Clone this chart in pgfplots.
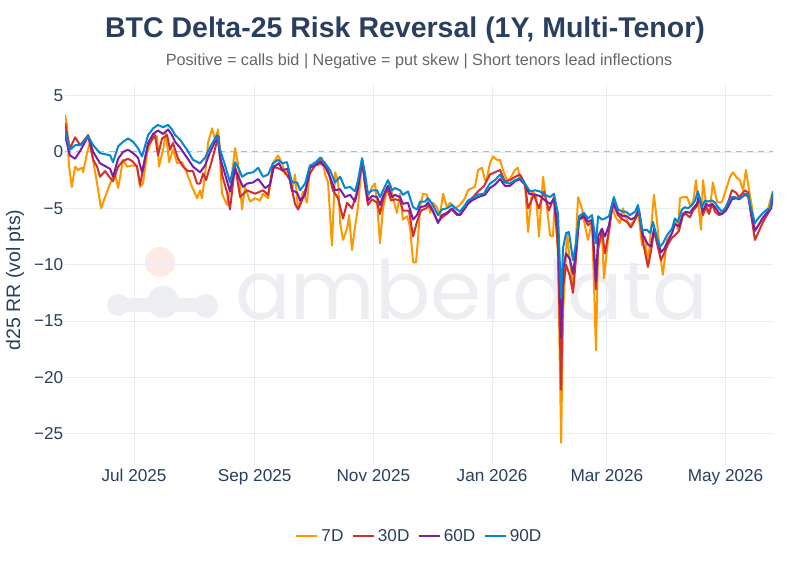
\documentclass[border=0pt]{standalone}
\usepackage{pgfplots}
\pgfplotsset{compat=1.18}
\usepackage{fontspec}
\setmainfont{Liberation Sans}
\newfontfamily\wmfont{Poppins}
\definecolor{c7}{HTML}{FF9800}
\definecolor{c30}{HTML}{D32F2F}
\definecolor{c60}{HTML}{7B1FA2}
\definecolor{c90}{HTML}{0288D1}
\definecolor{txt}{HTML}{2A3F5F}
\definecolor{subc}{HTML}{666666}
\definecolor{grd}{HTML}{E9EDF3}
\definecolor{wm}{HTML}{EDEEF2}
\definecolor{wmp}{HTML}{FCEAE5}
\begin{document}
\begin{tikzpicture}
\useasboundingbox (0pt,0pt) rectangle (810pt,567pt);
% watermark
\fill[wmp] (160pt,305pt) circle (15pt);
\fill[wm] (118pt,262pt) circle (11pt);
\fill[wm] (163pt,265pt) circle (16pt);
\fill[wm] (206pt,261pt) circle (12pt);
\fill[wm] (118pt,255pt) rectangle (206pt,269pt);
\node[anchor=base west, text=wm, inner sep=0pt] at (235pt,247pt) {\resizebox{473pt}{!}{\wmfont amberdata}};
% titles
\node[text=txt, font=\bfseries\fontsize{28.5}{34}\selectfont] at (405pt,537pt) {BTC Delta-25 Risk Reversal (1Y, Multi-Tenor)};
\node[text=subc, font=\fontsize{16.2}{19}\selectfont] at (419pt,506pt) {Positive = calls bid | Negative = put skew | Short tenors lead inflections};
\begin{axis}[
  at={(65pt,101.7pt)}, anchor=south west,
  width=708pt, height=379.8pt, scale only axis,
  xmin=-35.5, xmax=328.4, ymin=-27.8, ymax=5.9,
  axis line style={draw=none},
  major tick length=0pt,
  xtick={0,62,123,184,243,304},
  xticklabels={Jul 2025,Sep 2025,Nov 2025,Jan 2026,Mar 2026,May 2026},
  ytick={-25,-20,-15,-10,-5,0,5},
  yticklabels={−25,−20,−15,−10,−5,0,5},
  grid=major,
  major grid style={color=grd, line width=0.8pt},
  tick label style={text=txt, font=\fontsize{17.2}{20}\selectfont},
  yticklabel style={inner xsep=1.5pt},
  xticklabel style={inner ysep=4pt},
  ylabel={d25 RR (vol pts)},
  ylabel style={at={(axis description cs:-0.0706,0.488)}, anchor=center, text=txt, font=\fontsize{19.5}{22}\selectfont},
  legend style={at={(0.501,-0.186)}, anchor=center, draw=none, fill=none, legend columns=4,
    font=\fontsize{17.2}{20}\selectfont, text=txt,
    /tikz/every even column/.append style={column sep=5pt},
    nodes={inner xsep=3pt}},
  legend image code/.code={\draw[#1, line width=2.4pt] (0pt,0pt) -- (21pt,0pt);},
  every axis plot/.append style={line width=2pt, line join=round},
]
\addplot[dashed, color=black!28, line width=1pt, dash pattern=on 6pt off 5pt, forget plot] coordinates {(-35.5,0) (328.4,0)};
% 7D
\addplot[c7] coordinates {
(-35.5,3.3) (-34.5,2.4) (-33.5,-1.15) (-32,-3.1) (-30.3,-1.3) (-28.8,-1.6) (-26.7,-1.4) (-26.2,-1.8) (-24.2,-0.1) (-22.6,0.9) (-21.1,-0.7) (-19,-2.8) (-17,-5.0) (-14.9,-4.0) (-12.3,-2.8) (-9.8,-1.9) (-8.2,-3.2) (-5.7,-0.7) (-3.6,-1.3) (-1,-1.2) (1.5,-1.2) (3.1,-3.1) (4.6,-2.8) (6.7,-0.1) (9.2,1.1) (11.8,1.4) (12.8,-1.3) (14.9,0.2) (16.4,1.7) (18,-0.9) (20,0.2) (22.1,-1.0) (24.7,-0.9) (27.2,-1.9) (29.8,-3.1) (32.4,-4.1) (33.9,-3.4) (34.9,-4.1) (36.5,-2.0) (38,0.8) (40.1,2.1) (41.6,1.1) (43.2,2.0) (45.2,-3.7) (47.8,-4.7) (49.3,-3.4) (51.9,0.35) (53.4,-1.0) (55.5,-5.1) (57,-3.1) (59.6,-4.4) (62.2,-4.1) (64.7,-4.3) (66.3,-3.7) (68.9,-4.1) (71.4,-1.0) (74,-0.3) (76.1,-1.0) (77.6,-2.0) (79.1,-1.6) (81.2,-3.5) (82.7,-2.0) (84.3,-5.1) (86.8,-3.5) (88.9,-4.5) (90.4,-1.3) (93,-0.9) (94.6,-1.2) (96.6,-0.5) (98.2,-2.0) (99.7,-2.7) (101.7,-8.3) (103.3,-1.8) (104.8,-2.5) (105.9,-6.3) (107.4,-7.8) (109.5,-6.8) (110.5,-5.6) (112,-8.7) (113.6,-6.6) (115.1,-4.9) (117.2,-0.7) (118.7,-2.8) (120.2,-4.0) (122.3,-3.1) (123.8,-2.8) (124.9,-4.5) (126.4,-8.1) (128,-4.9) (130,-3.4) (131.6,-2.8) (133.1,-4.1) (135.1,-5.4) (136.7,-3.7) (138.2,-6.0) (140.3,-5.7) (141.8,-6.6) (143.4,-9.8) (144.9,-9.8) (145.9,-7.8) (147,-4.9) (148.5,-3.7) (150.6,-3.8) (152.1,-5.4) (153.6,-4.5) (155.7,-4.9) (157.2,-5.7) (158.8,-3.7) (160.8,-4.9) (162.4,-4.5) (165,-5.0) (167.5,-4.7) (170.1,-4.1) (171.6,-3.4) (173.7,-3.2) (175.2,-3.1) (176.8,-1.6) (178.8,-1.4) (180.4,-2.5) (181.4,-2.3) (182.9,-1.0) (184.5,-0.4) (186.5,-0.7) (188.1,-0.7) (189.6,-1.6) (191.7,-2.5) (193.2,-2.4) (195.8,-1.6) (197.3,-1.4) (198.4,-2.5) (200.9,-2.9) (202.5,-7.1) (204.5,-3.5) (206.6,-3.8) (208.1,-7.5) (210.2,-2.2) (212.2,-4.9) (213.8,-7.4) (215.3,-7.5) (216.3,-4.3) (217.9,-9.3) (219.5,-25.8) (220.5,-14.3) (222.5,-7.2) (224,-9.6) (225.6,-12.0) (226.6,-9.6) (228.2,-4.0) (230.2,-5.0) (231.8,-6.6) (233.3,-7.8) (235.4,-6.2) (237.4,-17.6) (238.5,-8.7) (240.5,-7.2) (241.5,-11.2) (243.6,-7.8) (245.6,-4.7) (247.2,-5.7) (249.7,-6.3) (251.3,-5.0) (252.3,-5.7) (254.9,-6.5) (257.5,-6.0) (259,-5.1) (261.1,-8.3) (262.6,-7.5) (264.1,-10.0) (265.7,-6.9) (267.2,-3.8) (268.8,-6.2) (270.3,-9.0) (271.8,-10.9) (273.9,-7.8) (276.5,-7.2) (278,-5.9) (279.5,-6.9) (280.6,-4.1) (282.1,-4.0) (284.2,-4.0) (285.7,-4.7) (287.3,-4.5) (288.8,-2.5) (289.8,-4.3) (291.4,-6.9) (292.4,-2.5) (294.5,-5.3) (296,-5.0) (297.5,-2.7) (299.6,-4.4) (301.1,-4.5) (302.2,-4.4) (304.7,-3.1) (306.3,-2.2) (307.8,-1.8) (309.9,-2.3) (311.4,-2.5) (313,-3.4) (314.5,-1.6) (316.1,-3.4) (317.6,-4.9) (319.1,-6.9) (320.7,-6.6) (322.8,-6.0) (324.3,-5.7) (325.9,-5.0) (327.9,-3.7)
};
\addlegendentry{7D}
% 30D
\addplot[c30] coordinates {
(-35.5,2.6) (-33,0.3) (-30.3,1.3) (-27.7,0.6) (-23.6,1.5) (-21,-0.7) (-19,-1.3) (-17.5,-2.2) (-14.9,-1.7) (-12.3,-2.3) (-10.8,-2.6) (-8.2,-1.3) (-5.7,-0.8) (-3.1,-0.6) (-1,-0.8) (1.5,-1.3) (3.1,-2.9) (5.7,-0.6) (7.2,0.6) (10.8,1.5) (12.3,-0.3) (14.4,1.2) (17,1.5) (18.5,0.2) (20,0.8) (22.6,-0.6) (25.2,-1.3) (27.7,-1.7) (30.3,-1.7) (32.4,-2.8) (33.9,-2.8) (35.5,-1.9) (37,-2.5) (39.6,-1.0) (42.1,0.6) (43.5,1.4) (45.2,-2.0) (47.8,-3.6) (49.3,-5.1) (51.9,-1.2) (54.5,-4.0) (58,-3.4) (62.2,-3.7) (66.3,-3.4) (68.9,-3.8) (71.4,-1.3) (75,-1.5) (77.6,-1.8) (80.2,-2.5) (82.7,-4.6) (84.3,-5.1) (86.8,-4.1) (90.4,-1.9) (93,-1.2) (95.6,-1.0) (98.2,-1.3) (99.7,-1.6) (102.2,-3.4) (104.8,-4.1) (107.4,-5.9) (109.5,-4.5) (112,-5.0) (114.5,-3.6) (117.2,-0.8) (118.7,-3.0) (120.2,-4.7) (122.3,-4.2) (124.9,-4.5) (126.4,-5.5) (128,-4.2) (130,-3.2) (132.1,-4.3) (134.1,-4.2) (136.7,-4.3) (138.2,-5.2) (141.3,-5.2) (143.4,-7.5) (145.4,-6.2) (147.5,-5.2) (150.1,-5.0) (151.6,-4.7) (154.2,-5.5) (156.2,-6.2) (158.3,-5.8) (160.8,-5.5) (163.4,-5.1) (166,-5.6) (168,-5.5) (170.1,-4.8) (172.2,-4.4) (174.2,-4.0) (176.8,-3.5) (179.9,-3.0) (182.9,-2.0) (185.5,-1.8) (188.1,-1.6) (190.6,-2.6) (193.2,-2.5) (195.8,-2.2) (198.4,-2.0) (200.9,-2.8) (202.5,-5.0) (205.5,-3.8) (208.1,-5.0) (210.7,-3.5) (213.2,-5.2) (215.8,-4.0) (217.9,-8.5) (219.5,-21.1) (220.5,-12.0) (222,-10.0) (224,-11.0) (225.6,-12.5) (227.1,-9.5) (228.7,-6.0) (231.2,-5.8) (233.3,-6.5) (235.4,-6.2) (237.4,-12.2) (238.5,-8.5) (240.5,-7.0) (242,-9.0) (244.1,-7.0) (246.1,-4.5) (248.7,-5.6) (251.3,-6.0) (253.3,-6.2) (255.4,-6.7) (257.5,-6.0) (259.5,-5.3) (261.6,-8.0) (264.1,-10.2) (265.7,-8.8) (267.2,-7.0) (269.3,-8.5) (270.8,-9.6) (272.4,-9.0) (274.4,-8.2) (276.5,-7.6) (278,-7.4) (280.1,-7.0) (282.1,-5.6) (283.7,-5.5) (285.7,-5.8) (287.3,-5.2) (289.3,-4.8) (290.4,-4.0) (292.4,-5.6) (294,-4.8) (295.5,-5.5) (297.1,-4.6) (298.6,-5.3) (300.6,-5.6) (302.2,-5.5) (304.2,-5.0) (305.8,-4.2) (307.3,-3.4) (309.4,-3.6) (310.9,-4.0) (312.5,-3.7) (314,-3.4) (315.6,-3.6) (317.1,-5.5) (319.1,-7.8) (321.2,-7.0) (323.3,-6.2) (325.3,-5.6) (327.4,-5.0) (328.4,-3.5)
};
\addlegendentry{30D}
% 60D
\addplot[c60] coordinates {
(-35.5,1.5) (-33,-0.3) (-30.3,-0.6) (-27.7,0.1) (-23.6,1.4) (-21,0.0) (-17.5,-1.0) (-12.3,-1.5) (-10.8,-2.2) (-8.2,-0.6) (-5.7,0.0) (-3.1,0.2) (-0.5,-0.1) (2,-0.5) (4.1,-1.8) (7.2,0.8) (9.8,1.6) (12.3,1.9) (14.9,1.6) (17.5,2.0) (19.5,1.5) (21.1,0.9) (23.6,0.4) (27.2,-0.5) (30.3,-1.3) (33.9,-1.8) (36.5,-1.2) (39.1,0.0) (41.6,0.9) (43,1.2) (44.2,-0.5) (46.8,-2.0) (49.3,-3.5) (51.9,-1.5) (53.9,-2.3) (56,-3.1) (58.1,-2.8) (61.2,-2.7) (63.8,-2.4) (67.3,-3.2) (69.9,-2.9) (71.9,-1.3) (74.5,-1.0) (76.1,-1.6) (79.1,-1.5) (81.2,-3.4) (83.8,-3.6) (85.3,-4.3) (87.9,-3.8) (90.4,-1.4) (93,-1.2) (95.6,-0.8) (98.2,-1.3) (100.7,-2.2) (103.3,-3.4) (105.9,-3.3) (108.4,-4.0) (111,-3.8) (113.6,-4.4) (115.1,-3.3) (117.2,-0.7) (118.7,-2.5) (120.2,-4.3) (122.3,-3.9) (124.9,-4.0) (126.4,-4.7) (128,-3.9) (130.5,-3.0) (132.6,-4.0) (134.1,-3.8) (136.7,-4.0) (138.2,-4.6) (140.8,-4.5) (143.4,-6.0) (145.4,-5.6) (147,-4.9) (149.5,-4.8) (151.1,-4.5) (153.6,-5.2) (156.2,-6.3) (158.3,-5.6) (160.8,-5.4) (163.4,-5.0) (166,-5.5) (167.5,-5.6) (170.1,-5.0) (171.6,-4.6) (173.7,-4.3) (176.8,-4.0) (180.4,-3.8) (182.9,-3.2) (185.5,-2.9) (188.1,-2.4) (190.6,-3.0) (193.2,-3.0) (195.8,-2.6) (198.4,-2.4) (200.9,-2.9) (203,-3.7) (206.1,-3.8) (208.6,-3.9) (211.2,-4.3) (213.8,-4.6) (215.8,-4.2) (217.9,-7.0) (219.5,-16.5) (220.5,-10.5) (222,-9.0) (224,-9.5) (225.6,-10.8) (227.1,-8.8) (228.7,-6.0) (231.2,-5.6) (233.3,-6.2) (235.4,-6.0) (237.4,-11.5) (238.5,-7.5) (240.5,-6.8) (242,-7.5) (244.1,-6.5) (246.1,-4.4) (248.7,-5.4) (251.3,-5.7) (253.3,-5.7) (255.4,-6.0) (257.5,-5.8) (259.5,-5.1) (261.6,-7.4) (264.1,-8.2) (265.7,-8.4) (267.2,-6.8) (269.3,-8.0) (270.8,-8.9) (272.4,-8.6) (274.4,-7.9) (276.5,-7.2) (278,-6.4) (280.1,-6.6) (282.1,-5.5) (283.7,-5.3) (285.7,-5.4) (287.3,-5.0) (289.3,-4.6) (290.4,-3.9) (292.4,-5.3) (294,-4.6) (295.5,-4.8) (297.1,-4.6) (298.6,-4.9) (300.6,-5.4) (302.2,-5.5) (304.2,-5.2) (305.8,-4.7) (307.3,-4.2) (309.4,-4.1) (310.9,-4.2) (312.5,-4.0) (314,-3.8) (315.6,-3.9) (317.1,-5.4) (319.1,-7.0) (321.2,-6.4) (323.3,-5.8) (325.3,-5.4) (327.4,-5.0) (328.4,-3.8)
};
\addlegendentry{60D}
% 90D
\addplot[c90] coordinates {
(-35.5,1.9) (-33,0.2) (-30.3,0.6) (-27.7,0.6) (-23.6,1.4) (-21,0.6) (-17.5,-0.1) (-12.3,-0.3) (-10.8,-0.9) (-8.2,0.5) (-5.7,0.9) (-3.1,1.2) (-0.5,0.9) (2,0.35) (4.1,-0.4) (7.2,1.5) (9.8,2.1) (12.3,2.4) (14.9,2.2) (17.5,2.4) (19.5,2.0) (21.1,1.5) (23.6,1.1) (27.2,0.2) (30.3,-0.7) (33.9,-1.0) (36.5,-0.5) (39.1,0.45) (41.6,1.2) (42.6,1.5) (44.2,0.2) (46.8,-1.2) (49.3,-2.7) (51.9,-0.9) (53.4,-1.3) (55.5,-2.2) (58.1,-1.9) (61.2,-1.8) (63.8,-1.4) (66.3,-2.2) (68.9,-2.0) (71.4,-1.0) (74,-0.7) (76.1,-1.0) (78.6,-0.9) (81.2,-2.7) (83.8,-2.7) (85.3,-3.4) (87.9,-2.8) (90.4,-1.2) (93,-1.0) (95.6,-0.5) (98.2,-1.0) (100.7,-1.6) (103.3,-2.7) (105.9,-2.2) (108.4,-3.2) (111,-3.1) (113.6,-3.5) (115.1,-2.5) (117.2,-0.55) (118.7,-1.9) (120.2,-3.7) (122.3,-3.4) (124.9,-3.4) (126.4,-4.0) (128,-3.4) (130.5,-2.5) (132.6,-3.4) (134.1,-3.2) (136.7,-3.4) (138.2,-3.8) (140.8,-3.5) (143.4,-4.9) (145.4,-5.1) (147,-4.4) (149.5,-4.4) (151.1,-4.1) (153.6,-4.7) (156.2,-5.6) (158.3,-5.1) (160.8,-5.0) (163.4,-4.7) (166,-5.1) (167.5,-5.3) (170.1,-4.7) (171.6,-4.3) (173.7,-4.1) (176.3,-3.8) (179.9,-3.7) (180.4,-3.5) (182.9,-2.8) (185.5,-2.5) (188.1,-2.0) (190.6,-2.7) (193.2,-2.8) (195.8,-2.5) (198.4,-2.3) (200.9,-2.8) (203.5,-3.5) (206.1,-3.4) (208.6,-3.5) (211.2,-3.8) (213.8,-4.0) (215.8,-3.7) (217.9,-5.5) (219.5,-13.0) (220.5,-8.5) (222,-7.2) (223.5,-7.1) (225.6,-9.6) (227.1,-8.1) (228.7,-5.7) (231.2,-5.4) (233.3,-5.9) (235.4,-5.6) (237.4,-8.1) (238.5,-5.7) (240.5,-6.0) (242,-5.9) (244.1,-5.7) (246.6,-4.0) (248.7,-5.1) (251.3,-5.3) (252.8,-5.3) (254.9,-5.6) (257.5,-5.3) (259,-4.7) (261.1,-6.9) (263.6,-6.9) (265.2,-7.2) (266.7,-6.2) (268.8,-7.6) (270.3,-8.4) (271.8,-8.1) (273.9,-7.4) (276.5,-6.8) (278,-5.9) (279.5,-6.2) (281.6,-5.1) (283.1,-4.9) (284.7,-5.0) (286.8,-4.7) (288.3,-4.3) (289.8,-3.5) (291.9,-4.9) (293.4,-4.3) (295,-4.4) (297.1,-4.3) (298.6,-4.5) (300.1,-4.9) (302.2,-5.3) (303.7,-5.0) (305.2,-4.5) (307.3,-4.0) (308.8,-4.0) (310.4,-4.1) (312.5,-4.0) (314,-3.7) (315.6,-3.8) (317.1,-5.0) (319.1,-6.3) (320.7,-5.9) (323.3,-5.4) (325.3,-5.1) (326.8,-5.0) (328.4,-3.5)
};
\addlegendentry{90D}
\end{axis}
\end{tikzpicture}
\end{document}
